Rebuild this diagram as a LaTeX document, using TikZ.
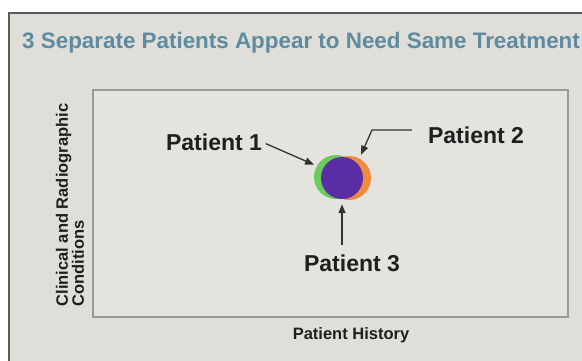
\documentclass[tikz,border=0pt]{standalone}
\usepackage{fontspec}
\setmainfont{Liberation Sans}
\usetikzlibrary{arrows.meta}

\definecolor{panelgrey}{HTML}{E0DED8}
\definecolor{titleblue}{HTML}{5F8BA0}
\definecolor{ptgreen}{HTML}{6CCB5F}
\definecolor{ptorange}{HTML}{F08A3C}
\definecolor{ptpurple}{HTML}{5A2DA5}

\tikzset{
  lbl/.style={font=\fontsize{23}{26}\selectfont\bfseries, text=black!88, inner sep=0pt},
  axlbl/.style={font=\fontsize{16.5}{16}\selectfont\bfseries, text=black!88, inner sep=0pt},
  pointer/.style={draw=black!80, line width=1.3pt, -{Triangle[length=9pt,width=7pt]}},
  patient/.style={circle, minimum size=44pt, inner sep=0pt}
}

\begin{document}
\begin{tikzpicture}[x=1pt,y=-1pt]
  \clip (0,0) rectangle (582,360);
  \fill [white] (0,0) rectangle (582,360);
  % panel and plot area
  \draw [draw=black!65, line width=1.5pt, fill=panelgrey] (9,13) rectangle (600,380);
  \draw [draw=black!40, line width=1.2pt, fill=panelgrey!85!white] (93,90) rectangle (568,317);
  \node [anchor=west, inner sep=0pt, text=titleblue, font=\fontsize{22.4}{26}\selectfont\bfseries] (title) at (22,43)
    {3 Separate Patients Appear to Need Same Treatment};
  % axis labels
  \node [axlbl, rotate=90, align=left] (ylab) at (70,205) {Clinical and Radiographic\\Conditions};
  \node [axlbl] (xlab) at (351,335) {Patient History};
  % the three patients
  \node [patient, fill=ptgreen] (c1) at (336,177) {};
  \node [patient, fill=ptorange] (c2) at (349,178) {};
  \node [patient, fill=ptpurple, minimum size=42pt] (c3) at (342,178) {};
  \node [lbl] (p1) at (214,142) {Patient 1};
  \node [lbl] (p2) at (476,135) {Patient 2};
  \node [lbl] (p3) at (352,263) {Patient 3};
  \coordinate (bend) at (372,130);
  \draw [pointer, shorten <=4pt, shorten >=3pt] (p1.east) -- (c1.150);
  \draw [pointer, shorten >=4pt] ([xshift=-16pt]p2.west |- bend) -- (bend) -- (c2.62);
  \draw [pointer, shorten <=9pt, shorten >=5pt] (p3.north -| c3.south) -- (c3.south);
\end{tikzpicture}
\end{document}
